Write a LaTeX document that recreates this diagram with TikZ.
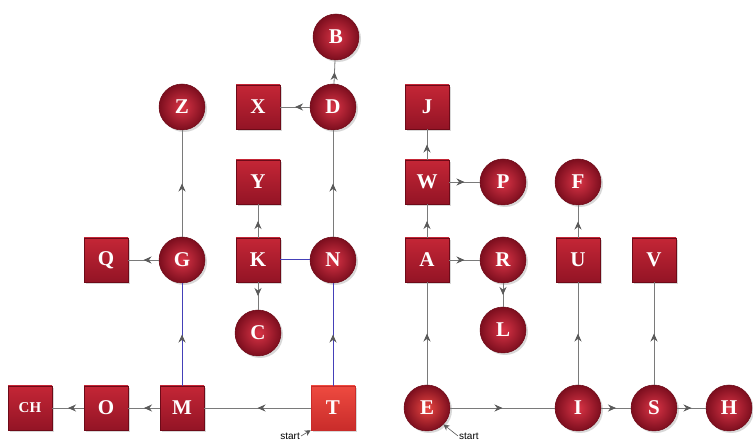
\documentclass[tikz,border=0pt]{standalone}
\usepackage{fontspec}
\setmainfont{Liberation Serif}
\setsansfont{Liberation Sans}
\usetikzlibrary{arrows.meta,decorations.markings,shadows}
\definecolor{sqtop}{HTML}{C42636}
\definecolor{sqbot}{HTML}{931425}
\definecolor{rimred}{HTML}{6E0A18}
\definecolor{ciin}{HTML}{DA3446}
\definecolor{ciout}{HTML}{7C0E1E}
\definecolor{ttop}{HTML}{EE4A40}
\definecolor{tbot}{HTML}{C92C2A}
\definecolor{linegray}{HTML}{7A7A7A}
\definecolor{lineblue}{HTML}{4440B8}
\definecolor{tipgray}{HTML}{5A5A5A}
\begin{document}
\begin{tikzpicture}[x=1pt,y=1pt,
  lettr/.style={text=white, font=\bfseries\fontsize{21}{21}\selectfont},
  sq/.style={rectangle, minimum size=44pt, inner sep=0pt, draw=rimred, line width=0.5pt,
    top color=sqtop, bottom color=sqbot, lettr,
    drop shadow={shadow xshift=2pt, shadow yshift=-2pt, opacity=0.3}},
  tsq/.style={sq, draw=tbot, top color=ttop, bottom color=tbot},
  ci/.style={circle, minimum size=46pt, inner sep=0pt, draw=rimred, line width=0.5pt,
    inner color=ciin, outer color=ciout, lettr,
    drop shadow={shadow xshift=2pt, shadow yshift=-2pt, opacity=0.3}},
  eci/.style={ci, inner color=ttop!80!ciin},
  link/.style={draw=linegray, line width=0.8pt, postaction={decorate},
    decoration={markings, mark=at position 0.5 with {\arrow[tipgray]{Stealth[length=8pt,width=7pt]}}}},
  blink/.style={draw=lineblue, line width=1pt, postaction={decorate},
    decoration={markings, mark=at position 0.5 with {\arrow[tipgray]{Stealth[length=8pt,width=7pt]}}}},
  plain/.style={draw=lineblue, line width=1pt},
  startlbl/.style={font=\sffamily\fontsize{10}{10}\selectfont, text=black, inner sep=1pt},
  startarr/.style={draw=tipgray, line width=0.6pt, -{Stealth[length=6pt,width=6pt]}}
]
\fill[white] (0,0) rectangle (753,-443);
\useasboundingbox (0,0) rectangle (753,-443);

% nodes
\node[ci] (B) at (336,-37) {B};
\node[sq] (X) at (258,-107) {X};
\node[ci] (D) at (333,-107) {D};
\node[ci] (Z) at (182,-107) {Z};
\node[sq] (J) at (427,-107) {J};
\node[sq] (Y) at (258,-182) {Y};
\node[sq] (W) at (427,-182) {W};
\node[ci] (P) at (503,-182) {P};
\node[ci] (F) at (578,-182) {F};
\node[sq] (Q) at (106,-260) {Q};
\node[ci] (G) at (182,-260) {G};
\node[sq] (K) at (258,-260) {K};
\node[ci] (N) at (333,-260) {N};
\node[sq] (A) at (427,-260) {A};
\node[ci] (R) at (503,-260) {R};
\node[sq] (U) at (578,-260) {U};
\node[sq] (V) at (654,-260) {V};
\node[ci] (C) at (258,-333) {C};
\node[ci] (L) at (503,-330) {L};
\node[sq, font=\bfseries\fontsize{15}{15}\selectfont] (CH) at (30,-408) {CH};
\node[sq] (O) at (106,-408) {O};
\node[sq] (M) at (182,-408) {M};
\node[tsq] (T) at (333,-408) {T};
\node[eci] (E) at (427,-408) {E};
\node[ci] (I) at (578,-408) {I};
\node[ci] (S) at (654,-408) {S};
\node[ci] (H) at (729,-408) {H};

% edges
\path[link] (D) -- (B);
\path[link] (D) -- (X);
\path[link] (N) -- (D);
\path[link] (G) -- (Z);
\path[link] (G) -- (Q);
\path[blink] (M) -- (G);
\path[blink] (T) -- (N);
\path[plain] (N) -- (K);
\path[link] (K) -- (Y);
\path[link] (K) -- (C);
\path[link] (T) -- (M);
\path[link] (M) -- (O);
\path[link] (O) -- (CH);
\path[link] (E) -- (A);
\path[link] (A) -- (W);
\path[link] (W) -- (J);
\path[link] (W) -- (P);
\path[link] (A) -- (R);
\path[link] (R) -- (L);
\path[link] (E) -- (I);
\path[link] (I) -- (U);
\path[link] (U) -- (F);
\path[link] (I) -- (S);
\path[link] (S) -- (V);
\path[link] (S) -- (H);

% start markers
\node[startlbl, anchor=east] (st1) at (301,-436) {start};
\path[startarr] (st1.east) -- (T.south west);
\node[startlbl, anchor=west] (st2) at (458,-436) {start};
\path[startarr] (st2.west) -- (E.-45);
\end{tikzpicture}
\end{document}
